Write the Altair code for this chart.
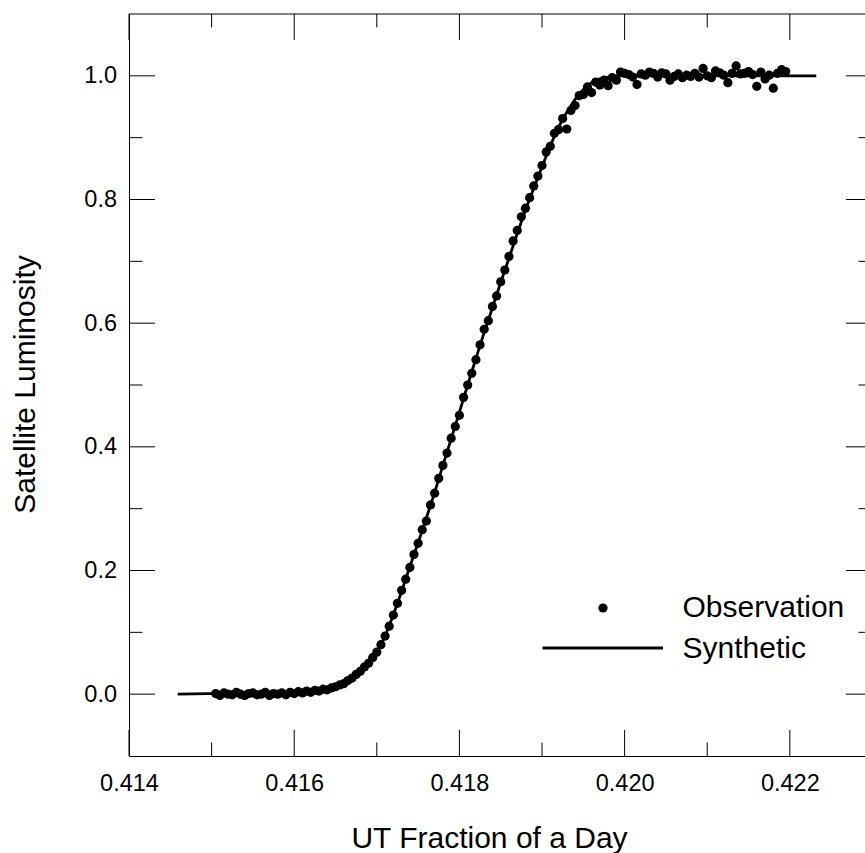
import altair as alt
import pandas as pd

# ---------------- data ----------------
obs_x = [
    0.41505, 0.41510, 0.41515, 0.41520, 0.41525, 0.41530, 0.41535, 0.41540, 0.41545, 0.41550,
    0.41555, 0.41560, 0.41565, 0.41570, 0.41575, 0.41580, 0.41585, 0.41590, 0.41595, 0.41600,
    0.41605, 0.41610, 0.41615, 0.41620, 0.41625, 0.41630, 0.41635, 0.41640, 0.41645, 0.41650,
    0.41655, 0.41660, 0.41665, 0.41670, 0.41675, 0.41680, 0.41685, 0.41690, 0.41695, 0.41700,
    0.41705, 0.41710, 0.41715, 0.41720, 0.41725, 0.41730, 0.41735, 0.41740, 0.41745, 0.41750,
    0.41755, 0.41760, 0.41765, 0.41770, 0.41775, 0.41780, 0.41785, 0.41790, 0.41795, 0.41800,
    0.41805, 0.41810, 0.41815, 0.41820, 0.41825, 0.41830, 0.41835, 0.41840, 0.41845, 0.41850,
    0.41855, 0.41860, 0.41865, 0.41870, 0.41875, 0.41880, 0.41885, 0.41890, 0.41895, 0.41900,
    0.41905, 0.41910, 0.41915, 0.41920, 0.41925, 0.41930, 0.41935, 0.41940, 0.41945, 0.41950,
    0.41955, 0.41960, 0.41965, 0.41970, 0.41975, 0.41980, 0.41985, 0.41990, 0.41995, 0.42000,
    0.42005, 0.42010, 0.42015, 0.42020, 0.42025, 0.42030, 0.42035, 0.42040, 0.42045, 0.42050,
    0.42055, 0.42060, 0.42065, 0.42070, 0.42075, 0.42080, 0.42085, 0.42090, 0.42095, 0.42100,
    0.42105, 0.42110, 0.42115, 0.42120, 0.42125, 0.42130, 0.42135, 0.42140, 0.42145, 0.42150,
    0.42155, 0.42160, 0.42165, 0.42170, 0.42175, 0.42180, 0.42185, 0.42190, 0.42195,
]
obs_y = [
    0.001, -0.002, 0.002, 0.000, -0.001, 0.003, 0.000, -0.002, 0.001, 0.002,
    -0.001, 0.000, 0.003, -0.002, 0.001, 0.000, 0.002, -0.001, 0.003, 0.001,
    0.004, 0.002, 0.005, 0.003, 0.006, 0.005, 0.008, 0.007, 0.010, 0.012,
    0.015, 0.017, 0.022, 0.026, 0.032, 0.037, 0.044, 0.050, 0.059, 0.068,
    0.080, 0.094, 0.110, 0.128, 0.147, 0.168, 0.186, 0.205, 0.226, 0.244,
    0.266, 0.280, 0.306, 0.325, 0.349, 0.370, 0.390, 0.414, 0.433, 0.451,
    0.480, 0.500, 0.519, 0.541, 0.565, 0.590, 0.604, 0.627, 0.644, 0.667,
    0.686, 0.708, 0.733, 0.750, 0.772, 0.786, 0.803, 0.822, 0.838, 0.855,
    0.877, 0.886, 0.907, 0.913, 0.931, 0.914, 0.944, 0.952, 0.968, 0.970,
    0.982, 0.973, 0.990, 0.985, 0.993, 0.984, 0.997, 0.993, 1.006, 1.004,
    1.002, 0.998, 0.986, 1.003, 1.001, 1.006, 1.004, 0.998, 1.005, 1.003,
    0.993, 0.999, 1.003, 0.997, 1.001, 0.999, 1.004, 0.998, 1.012, 1.000,
    0.997, 1.008, 1.005, 1.001, 0.989, 1.004, 1.016, 1.003, 1.004, 1.007,
    1.002, 0.983, 1.006, 0.995, 1.001, 0.980, 1.004, 1.010, 1.007,
]

syn_x = [0.41459, 0.4160, 0.4162, 0.4164, 0.4165, 0.4166, 0.4167, 0.4168, 0.4169, 0.4170,
         0.4171, 0.4172, 0.4173, 0.4174, 0.4175, 0.4176, 0.4177, 0.4178, 0.4179, 0.4180,
         0.4181, 0.4182, 0.4183, 0.4184, 0.4185, 0.4186, 0.4187, 0.4188, 0.4189, 0.4190,
         0.4191, 0.4192, 0.4193, 0.4194, 0.4195, 0.4196, 0.4197, 0.4198, 0.4199, 0.42232]
syn_y = [0.000, 0.003, 0.005, 0.008, 0.011, 0.017, 0.026, 0.037, 0.050, 0.068,
         0.094, 0.128, 0.166, 0.206, 0.245, 0.285, 0.326, 0.370, 0.413, 0.456,
         0.500, 0.543, 0.585, 0.625, 0.666, 0.705, 0.745, 0.783, 0.818, 0.853,
         0.887, 0.917, 0.941, 0.962, 0.978, 0.989, 0.995, 0.998, 1.000, 1.000]

x_major = [0.414, 0.416, 0.418, 0.420, 0.422]
x_minor = [0.415, 0.417, 0.419, 0.421]
y_major = [0.0, 0.2, 0.4, 0.6, 0.8, 1.0]
y_minor = [0.1, 0.3, 0.5, 0.7, 0.9]

legend_labels = ["Observation", "Synthetic"]

# ---------------- layout ----------------
W, H = 736, 742
FULL_W = 743           # the frame continues past the window's right edge
MAJ, MIN = 26, 13.5
FONT = "Liberation Sans, Arial, Helvetica, sans-serif"

xs = alt.Scale(domain=[0.414, 0.42291], nice=False, zero=False)
ys = alt.Scale(domain=[-0.1, 1.1], nice=False, zero=False)

x_axis = alt.Axis(values=x_major, format=".3f", title="UT Fraction of a Day",
                  ticks=False, grid=False, domain=True, domainColor="black",
                  domainWidth=1, labelFontSize=23.5, labelPadding=15,
                  labelColor="black", labelFont=FONT, labelFlush=False,
                  titleFont=FONT, titleFontSize=30, titleFontWeight="normal",
                  titleColor="black", titleX=360, titleY=91,
                  titleBaseline="alphabetic")
y_axis = alt.Axis(values=y_major, format=".1f", title="Satellite Luminosity",
                  ticks=False, grid=False, domain=True, domainColor="black",
                  domainWidth=1, labelFontSize=23.5, labelPadding=12.5,
                  labelColor="black", labelFont=FONT, labelFlush=False,
                  titleFont=FONT, titleFontSize=30, titleFontWeight="normal",
                  titleColor="black", titleX=-95, titleY=370,
                  titleBaseline="alphabetic", titleAngle=270)


def X():
    return alt.X("x:Q", scale=xs, axis=x_axis)


def Y():
    return alt.Y("y:Q", scale=ys, axis=y_axis)


obs = pd.DataFrame({"x": obs_x, "y": obs_y})
syn = pd.DataFrame({"x": syn_x, "y": syn_y})

line = alt.Chart(syn).mark_line(color="black", strokeWidth=2.8).encode(x=X(), y=Y())
points = alt.Chart(obs).mark_circle(color="black", size=85, opacity=1).encode(x=X(), y=Y())


def xticks(vals, length):
    d = pd.DataFrame({"x": vals})
    bottom = alt.Chart(d).mark_rule(color="black", strokeWidth=1).encode(
        x=X(), y=alt.value(H), y2=alt.value(H - length))
    top = alt.Chart(d).mark_rule(color="black", strokeWidth=1).encode(
        x=X(), y=alt.value(0), y2=alt.value(length))
    return [bottom, top]


def yticks(vals, length):
    d = pd.DataFrame({"y": vals})
    left = alt.Chart(d).mark_rule(color="black", strokeWidth=1).encode(
        y=Y(), x=alt.value(0), x2=alt.value(length))
    right = alt.Chart(d).mark_rule(color="black", strokeWidth=1).encode(
        y=Y(), x=alt.value(FULL_W), x2=alt.value(FULL_W - length))
    return [left, right]


one = pd.DataFrame({"a": [0]})
top_border = alt.Chart(one).mark_rule(color="black", strokeWidth=1).encode(
    x=alt.value(0), x2=alt.value(FULL_W + 5), y=alt.value(0))

leg_dot = alt.Chart(one).mark_circle(color="black", size=85, opacity=1).encode(
    x=alt.value(474), y=alt.value(594))
leg_line = alt.Chart(one).mark_rule(color="black", strokeWidth=3).encode(
    x=alt.value(413.5), x2=alt.value(534), y=alt.value(634))
leg_txt1 = alt.Chart(pd.DataFrame({"t": [legend_labels[0]]})).mark_text(
    align="left", baseline="alphabetic", fontSize=30, font=FONT, color="black").encode(
    x=alt.value(553.5), y=alt.value(603), text="t:N")
leg_txt2 = alt.Chart(pd.DataFrame({"t": [legend_labels[1]]})).mark_text(
    align="left", baseline="alphabetic", fontSize=30, font=FONT, color="black").encode(
    x=alt.value(553.5), y=alt.value(643.5), text="t:N")

layers = [line, points] + xticks(x_major, MAJ) + xticks(x_minor, MIN) \
    + yticks(y_major, MAJ) + yticks(y_minor, MIN) \
    + [top_border, leg_dot, leg_line, leg_txt1, leg_txt2]

chart = alt.layer(*layers).properties(
    width=W, height=H,
    autosize=alt.AutoSizeParams(type="none"),
    padding={"left": 129, "top": 14, "right": 0, "bottom": 97},
    background="white",
).configure_view(stroke=None)

chart.save("out.html", embed_options={"renderer": "svg", "actions": False})
